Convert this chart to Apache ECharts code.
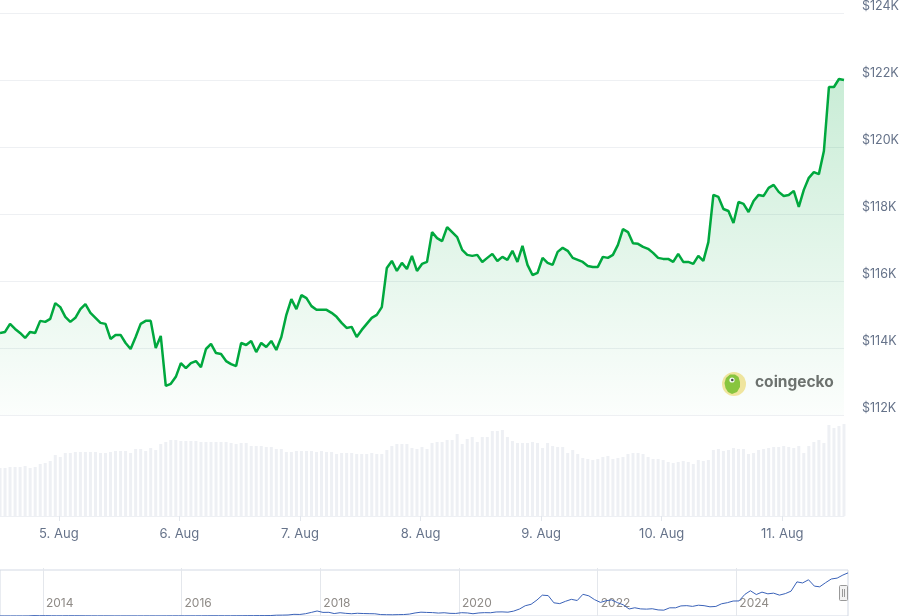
<!DOCTYPE html>
<html><head><meta charset="utf-8">
<script src="https://cdn.jsdelivr.net/npm/echarts@6/dist/echarts.min.js"></script>
<style>html,body{margin:0;padding:0;background:#fff}#c{width:912px;height:616px}</style>
</head><body><div id="c"></div>
<script>
// ---- data ----
const startLocal = [2025, 7, 4, 12, 17];   // first hourly point: 4 Aug 2025 12:17
const hourlyPriceUSD = [
114450,114480,114720,114570,114450,114300,114480,114450,114810,114780,
114870,115340,115220,114930,114780,114900,115160,115310,115050,114900,
114750,114720,114270,114390,114390,114150,113970,114330,114720,114810,
114810,114000,114360,112870,112930,113140,113550,113400,113550,113610,
113430,113970,114120,113850,113820,113610,113520,113460,114150,114090,
114210,113880,114150,114030,114210,113940,114330,114990,115460,115160,
115580,115490,115250,115140,115140,115140,115050,114930,114750,114600,
114630,114330,114540,114720,114900,114990,115220,116390,116600,116300,
116540,116360,116750,116300,116510,116570,117460,117280,117190,117610,
117460,117310,116930,116780,116750,116780,116570,116690,116810,116600,
116720,116630,116900,116570,117050,116480,116180,116240,116690,116540,
116480,116870,116990,116900,116690,116630,116570,116450,116420,116420,
116720,116690,116780,117080,117550,117460,117130,117110,117020,116960,
116840,116690,116660,116660,116570,116810,116570,116570,116510,116750,
116600,117160,118570,118510,118150,118090,117730,118360,118300,118060,
118390,118570,118540,118780,118870,118660,118540,118570,118690,118210,
118720,119080,119250,119190,119880,121790,121790,122030,122000];
const hourlyVolumeB = [
48,48,49,49,49,50,48,49,52,53,
55,61,59,63,63,64,64,64,64,64,
63,63,64,65,65,65,63,67,67,65,
68,66,72,74,76,76,75,75,75,75,
74,74,74,74,74,74,73,72,73,73,
70,70,70,69,69,67,67,64,64,65,
65,65,65,64,65,64,64,62,63,63,
63,62,62,62,63,62,62,66,70,72,
72,72,68,67,69,67,73,74,74,76,
76,82,72,77,79,74,79,79,85,85,
86,79,75,73,73,73,74,73,68,73,
70,69,69,63,66,62,58,57,56,57,
59,60,57,58,59,62,63,63,62,59,
57,57,56,54,53,54,55,54,52,56,
55,56,66,67,65,66,68,67,67,62,
63,66,67,68,69,69,70,69,68,70,
63,70,74,76,73,91,88,90,92];
const dayLabelDates = [5, 6, 7, 8, 9, 10, 11];         // August 2025
const priceTicks = [112000, 114000, 116000, 118000, 120000, 122000, 124000];
// navigator: monthly BTC price, May 2013 .. Aug 2025
const navStart = [2013, 4];
const navMonthlyUSD = [
130,100,100,140,130,200,1100,750,
850,570,460,450,630,640,590,480,390,340,380,320,
220,250,245,235,230,265,285,230,236,315,380,430,
370,435,415,450,530,670,620,575,610,700,745,960,
970,1190,1070,1350,2300,2500,2870,4700,4340,6470,10200,14150,
10200,10400,6900,9250,7500,6400,7700,7000,6600,6300,4000,3700,
3450,3850,4100,5350,8600,10800,10100,9600,8300,9200,7550,7200,
9350,8600,6400,8650,9450,9150,11350,11650,10800,13800,19700,29000,
33100,45200,58900,57700,37300,35000,41500,47100,43800,61300,57000,46300,
38500,43200,45500,37700,31800,19800,23300,20050,19400,20500,17200,16500,
23100,23150,28500,29250,27200,30500,29200,26000,27000,34500,37700,42300,
42600,61200,71300,60700,67500,62700,64600,59000,63300,70200,96400,93400,
102400,84400,82500,94200,104600,107100,115700,121900];
const navYearLabels = [2014, 2016, 2018, 2020, 2022, 2024];

// ---- build ----
const H = 3600 * 1000;
const t0 = new Date(...startLocal).getTime();
const tEnd = t0 + (hourlyPriceUSD.length - 1) * H;
const priceData = hourlyPriceUSD.map((v, i) => [t0 + i * H, v]);
const volData = hourlyVolumeB.map((v, i) => [t0 + i * H, v]);
const dayTicks = dayLabelDates.map(d => new Date(2025, 7, d).getTime());
const navData = navMonthlyUSD.map((v, i) => {
  const last = i === navMonthlyUSD.length - 1;
  return [new Date(navStart[0], navStart[1] + i, last ? 11 : 15).getTime(), v];
});
const navYears = navYearLabels.map(y => new Date(y, 0, 1).getTime());

const FONT = 'Inter, "Noto Sans", sans-serif';
const chart = echarts.init(document.getElementById('c'), null, { renderer: 'canvas' });
chart.setOption({
  animation: false,
  backgroundColor: '#ffffff',
  grid: [
    { left: 0, top: 13, width: 844, height: 402 },
    { left: 0, top: 415, width: 844, height: 101 },
    { left: -2, top: 570, width: 850, height: 48, show: true, borderColor: '#d3d9e4', borderWidth: 1, backgroundColor: 'transparent' }
  ],
  xAxis: [
    { type: 'value', gridIndex: 0, min: t0, max: tEnd, show: false },
    { type: 'value', gridIndex: 1, min: t0, max: tEnd,
      axisLine: { show: true, lineStyle: { color: '#eef0f4', width: 1 } },
      axisTick: { show: true, customValues: dayTicks, length: 5, lineStyle: { color: '#e2e6ec' } },
      splitLine: { show: false },
      axisLabel: { customValues: dayTicks, margin: 12, color: '#66738a', fontSize: 13, fontFamily: FONT,
        formatter: v => new Date(v).getDate() + '. Aug' } },
    { type: 'value', gridIndex: 2, min: new Date(2013, 4, 20).getTime(), max: new Date(2025, 7, 11).getTime(),
      axisLine: { show: false },
      axisTick: { show: true, inside: true, length: 48, customValues: navYears, lineStyle: { color: '#e4e7ec' } },
      splitLine: { show: false },
      axisLabel: { inside: true, customValues: navYears, margin: 7, align: 'left', padding: [0, 0, 0, 3],
        color: '#8f8b87', fontSize: 12, fontFamily: FONT, formatter: v => String(new Date(v).getFullYear()) } }
  ],
  yAxis: [
    { type: 'value', gridIndex: 0, position: 'right', min: 112000, max: 124000, interval: 2000,
      axisLine: { show: false }, axisTick: { show: false },
      splitLine: { show: true, lineStyle: { color: '#eef0f3', width: 1 } },
      axisLabel: { margin: 18, verticalAlign: 'bottom', color: '#66738a', fontSize: 12.5, fontFamily: FONT,
        formatter: v => '$' + (v / 1000) + 'K' } },
    { type: 'value', gridIndex: 1, min: 0, max: 101, show: false },
    { type: 'value', gridIndex: 2, min: 0, max: 130000, show: false }
  ],
  series: [
    { type: 'bar', xAxisIndex: 1, yAxisIndex: 1, data: volData, barWidth: 3,
      itemStyle: { color: '#eef0f4' }, silent: true },
    { type: 'line', xAxisIndex: 0, yAxisIndex: 0, data: priceData, showSymbol: false, smooth: false,
      lineStyle: { color: '#00a83e', width: 2.5 },
      areaStyle: { origin: 'start', color: new echarts.graphic.LinearGradient(0, 0, 0, 1, [
        { offset: 0, color: 'rgba(0,168,62,0.30)' },
        { offset: 1, color: 'rgba(0,168,62,0.02)' }]) },
      z: 3 },
    { type: 'line', xAxisIndex: 2, yAxisIndex: 2, data: navData, showSymbol: false,
      lineStyle: { color: '#3a62b8', width: 1 }, silent: true }
  ],
  graphic: [
    { type: 'group', left: 722, top: 372, children: [
      { type: 'circle', shape: { cx: 12, cy: 12, r: 12 }, style: { fill: '#f7e7a1' } },
      { type: 'polygon', shape: { points: [[2.5,11],[4,6],[8,2.5],[13,2.5],[16.5,5],[18,10],[18,15],[15,20],[10,22],[6,20],[3.5,16]] }, style: { fill: '#8cc63f' } },
      { type: 'circle', shape: { cx: 10, cy: 8, r: 2.6 }, style: { fill: '#ffffff' } },
      { type: 'circle', shape: { cx: 10.3, cy: 8, r: 1.3 }, style: { fill: '#4a4a4a' } }
    ] },
    { type: 'text', left: 755, top: 374, style: { text: 'coingecko', fill: '#707070', font: 'bold 15.5px ' + FONT } },
    { type: 'group', left: 839, top: 585, children: [
      { type: 'rect', shape: { x: 0.5, y: 0.5, width: 8, height: 15, r: 1 }, style: { fill: '#f2f2f2', stroke: '#999999', lineWidth: 1 } },
      { type: 'line', shape: { x1: 3.5, y1: 4, x2: 3.5, y2: 12 }, style: { stroke: '#999999' } },
      { type: 'line', shape: { x1: 5.5, y1: 4, x2: 5.5, y2: 12 }, style: { stroke: '#999999' } }
    ] }
  ]
});
</script></body></html>
